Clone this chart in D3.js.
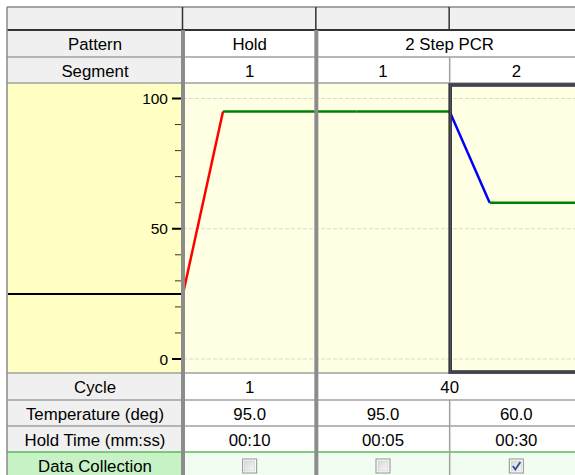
<!DOCTYPE html>
<html>
<head>
<meta charset="utf-8">
<script src="https://cdn.jsdelivr.net/npm/d3@7"></script>
<style>
  html, body { margin: 0; padding: 0; background: #fff; }
  svg { display: block; }
  text { font-family: "Liberation Sans", Arial, sans-serif; fill: #000; }
</style>
</head>
<body>
<svg id="chart" width="575" height="475"></svg>
<script>
// ---------- data ----------
const rowLabels = ["Pattern", "Segment", "Cycle", "Temperature (deg)", "Hold Time (mm:ss)", "Data Collection"];
const patterns = ["Hold", "2 Step PCR"];
const patternSpans = [1, 2];
const segmentLabels = ["1", "1", "2"];
const cycles = ["1", "40"];
const temperatures = [95.0, 95.0, 60.0];
const holdTimes = ["00:10", "00:05", "00:30"];
const dataCollection = [false, false, true];
const startTemp = 25;
const yTickValues = [0, 50, 100];
const yMinorTicks = [0, 10, 20, 30, 40, 50, 60, 70, 80, 90, 100];
const rampFraction = 0.3;
const selectedSegment = 2;

// ---------- layout ----------
const svg = d3.select("#chart");
const left = 7, labelRight = 183, tableRight = 583;
const rowTop = 7, headerBottom = 30, patternBottom = 57, segBottom = 83;
const plotBottom = 373, cycleBottom = 400, tempBottom = 426, holdBottom = 452, dcBottom = 478;

const x = d3.scaleLinear().domain([0, segmentLabels.length]).range([labelRight, tableRight]);
const y = d3.scaleLinear().domain([0, 100]).range([359, 98.5]);

// backgrounds
svg.append("rect").attr("x", left).attr("y", rowTop).attr("width", tableRight - left).attr("height", headerBottom - rowTop).attr("fill", "#f0f0f0");
svg.append("rect").attr("x", left).attr("y", headerBottom).attr("width", labelRight - left).attr("height", segBottom - headerBottom).attr("fill", "#f0f0f0");
svg.append("rect").attr("x", left).attr("y", segBottom).attr("width", labelRight - left).attr("height", plotBottom - segBottom).attr("fill", "#ffffc4");
svg.append("rect").attr("x", labelRight).attr("y", segBottom).attr("width", tableRight - labelRight).attr("height", plotBottom - segBottom).attr("fill", "#ffffe3");
svg.append("rect").attr("x", left).attr("y", plotBottom).attr("width", labelRight - left).attr("height", holdBottom - plotBottom).attr("fill", "#f0f0f0");
svg.append("rect").attr("x", left).attr("y", holdBottom).attr("width", labelRight - left).attr("height", dcBottom - holdBottom).attr("fill", "#c6f2c6");
svg.append("rect").attr("x", labelRight).attr("y", holdBottom).attr("width", tableRight - labelRight).attr("height", dcBottom - holdBottom).attr("fill", "#f2fdf2");

// gridlines
svg.append("g").selectAll("line").data(yTickValues).join("line")
  .attr("x1", labelRight).attr("x2", tableRight)
  .attr("y1", d => y(d)).attr("y2", d => y(d))
  .attr("stroke", "#d9d9d9").attr("stroke-width", 1).attr("stroke-dasharray", "4,2");

// left axis ticks
const axisX = 181;
svg.append("g").selectAll("line").data(yMinorTicks.filter(d => !yTickValues.includes(d))).join("line")
  .attr("x1", axisX - 6).attr("x2", axisX).attr("y1", d => y(d)).attr("y2", d => y(d))
  .attr("stroke", "#333").attr("stroke-width", 1);
svg.append("g").selectAll("line").data(yTickValues).join("line")
  .attr("x1", axisX - 9).attr("x2", axisX).attr("y1", d => y(d)).attr("y2", d => y(d))
  .attr("stroke", "#000").attr("stroke-width", 2);
svg.append("g").selectAll("text").data(yTickValues).join("text")
  .attr("x", 168).attr("y", d => y(d)).attr("dy", "0.36em")
  .attr("text-anchor", "end").attr("font-size", "15.5px").text(d => d);

// start temperature line in the label column
svg.append("line").attr("x1", left + 1).attr("x2", labelRight)
  .attr("y1", y(startTemp)).attr("y2", y(startTemp))
  .attr("stroke", "#000").attr("stroke-width", 2);

// profile lines
const lineGen = d3.line().x(d => x(d[0])).y(d => y(d[1]));
const pieces = [];
temperatures.forEach((t, i) => {
  const prev = i === 0 ? startTemp : temperatures[i - 1];
  const color = t > prev ? "#ff0000" : (t < prev ? "#0000ff" : "#008000");
  pieces.push({ pts: [[i, prev], [i + rampFraction, t]], color });
  pieces.push({ pts: [[i + rampFraction, t], [i + 1, t]], color: "#008000" });
});
svg.append("g").selectAll("path").data(pieces).join("path")
  .attr("d", d => lineGen(d.pts)).attr("fill", "none")
  .attr("stroke", d => d.color).attr("stroke-width", 2.5);

// horizontal separators
const hLines = [patternBottom, segBottom, plotBottom, cycleBottom, tempBottom];
svg.append("g").selectAll("line").data(hLines).join("line")
  .attr("x1", left).attr("x2", tableRight).attr("y1", d => d).attr("y2", d => d)
  .attr("stroke", "#a0a0a0").attr("stroke-width", 1.5);
svg.append("line").attr("x1", left).attr("x2", tableRight).attr("y1", holdBottom).attr("y2", holdBottom)
  .attr("stroke", "#5cb85c").attr("stroke-width", 1.5);
svg.append("line").attr("x1", left).attr("x2", tableRight).attr("y1", rowTop).attr("y2", rowTop)
  .attr("stroke", "#8a8a8a").attr("stroke-width", 1.5);
svg.append("line").attr("x1", left).attr("x2", tableRight).attr("y1", headerBottom).attr("y2", headerBottom)
  .attr("stroke", "#333").attr("stroke-width", 2);
svg.append("line").attr("x1", left).attr("x2", left).attr("y1", rowTop).attr("y2", dcBottom)
  .attr("stroke", "#8a8a8a").attr("stroke-width", 1.5);

// header-row verticals
const colEdges = d3.range(segmentLabels.length).map(i => x(i));
svg.append("g").selectAll("line").data(colEdges).join("line")
  .attr("x1", d => d - 0.5).attr("x2", d => d - 0.5).attr("y1", rowTop).attr("y2", headerBottom)
  .attr("stroke", "#333").attr("stroke-width", 1.5);

// thin verticals inside patterns (segment boundaries)
const innerEdges = [];
let acc = 0;
patternSpans.forEach(s => { for (let k = 1; k < s; k++) innerEdges.push(acc + k); acc += s; });
const thinRows = [[patternBottom, segBottom], [cycleBottom, dcBottom]];
innerEdges.forEach(e => {
  thinRows.forEach(r => {
    svg.append("line").attr("x1", x(e)).attr("x2", x(e)).attr("y1", r[0]).attr("y2", r[1])
      .attr("stroke", "#a0a0a0").attr("stroke-width", 1.5);
  });
});

// thick pattern dividers
const patternEdges = [0];
acc = 0;
patternSpans.forEach(s => { acc += s; patternEdges.push(acc); });
svg.append("g").selectAll("line").data(patternEdges.slice(0, -1)).join("line")
  .attr("x1", d => x(d)).attr("x2", d => x(d)).attr("y1", headerBottom).attr("y2", dcBottom)
  .attr("stroke", "#8c8c8c").attr("stroke-width", 4);

// selected segment box
svg.append("rect").attr("x", x(selectedSegment) + 0.5).attr("y", segBottom + 2)
  .attr("width", x(selectedSegment + 1) - x(selectedSegment) - 1).attr("height", plotBottom - segBottom - 3)
  .attr("fill", "none").attr("stroke", "#2a2a33").attr("stroke-width", 3.5);
svg.append("rect").attr("x", x(selectedSegment) + 0.5).attr("y", segBottom + 2)
  .attr("width", x(selectedSegment + 1) - x(selectedSegment) - 1).attr("height", plotBottom - segBottom - 3)
  .attr("fill", "none").attr("stroke", "#6a6a7a").attr("stroke-width", 0.8);

// text
const fs = "16.8px";
const base = 6.5;
const rowCenters = {
  Pattern: (headerBottom + patternBottom) / 2,
  Segment: (patternBottom + segBottom) / 2,
  Cycle: (plotBottom + cycleBottom) / 2,
  "Temperature (deg)": (cycleBottom + tempBottom) / 2,
  "Hold Time (mm:ss)": (tempBottom + holdBottom) / 2,
  "Data Collection": (holdBottom + 475 + 4) / 2
};
const labelCx = (left + labelRight) / 2;
svg.append("g").selectAll("text").data(rowLabels).join("text")
  .attr("x", labelCx).attr("y", d => rowCenters[d] + base)
  .attr("text-anchor", "middle").attr("font-size", fs).text(d => d);

// pattern and cycle (spanning)
acc = 0;
patterns.forEach((p, i) => {
  const cx = (x(acc) + x(acc + patternSpans[i])) / 2;
  svg.append("text").attr("x", cx).attr("y", rowCenters.Pattern + base)
    .attr("text-anchor", "middle").attr("font-size", fs).text(p);
  svg.append("text").attr("x", cx).attr("y", rowCenters.Cycle + base)
    .attr("text-anchor", "middle").attr("font-size", fs).text(cycles[i]);
  acc += patternSpans[i];
});

const segCx = i => (x(i) + x(i + 1)) / 2;
svg.append("g").selectAll("text").data(segmentLabels).join("text")
  .attr("x", (d, i) => segCx(i)).attr("y", rowCenters.Segment + base)
  .attr("text-anchor", "middle").attr("font-size", fs).text(d => d);
svg.append("g").selectAll("text").data(temperatures).join("text")
  .attr("x", (d, i) => segCx(i)).attr("y", rowCenters["Temperature (deg)"] + base)
  .attr("text-anchor", "middle").attr("font-size", fs).text(d => d.toFixed(1));
svg.append("g").selectAll("text").data(holdTimes).join("text")
  .attr("x", (d, i) => segCx(i)).attr("y", rowCenters["Hold Time (mm:ss)"] + base)
  .attr("text-anchor", "middle").attr("font-size", fs).text(d => d);

// checkboxes
const defs = svg.append("defs");
const grad = defs.append("linearGradient").attr("id", "cbg").attr("x1", 0).attr("y1", 0).attr("x2", 1).attr("y2", 1);
grad.append("stop").attr("offset", "0%").attr("stop-color", "#d8d8d8");
grad.append("stop").attr("offset", "100%").attr("stop-color", "#f7f7f7");
const cb = svg.append("g").selectAll("g").data(dataCollection).join("g")
  .attr("transform", (d, i) => `translate(${segCx(i) - 7},${459})`);
cb.append("rect").attr("width", 14).attr("height", 14).attr("fill", "#fff").attr("stroke", "#8e8f8f").attr("stroke-width", 1);
cb.append("rect").attr("x", 2).attr("y", 2).attr("width", 10).attr("height", 10).attr("fill", "url(#cbg)").attr("stroke", "#c0c0c0").attr("stroke-width", 0.5);
cb.filter(d => d).append("path").attr("d", "M3.5,7 L6,10.5 L11,3")
  .attr("fill", "none").attr("stroke", "#2b4c9a").attr("stroke-width", 1.8);
</script>
</body>
</html>
